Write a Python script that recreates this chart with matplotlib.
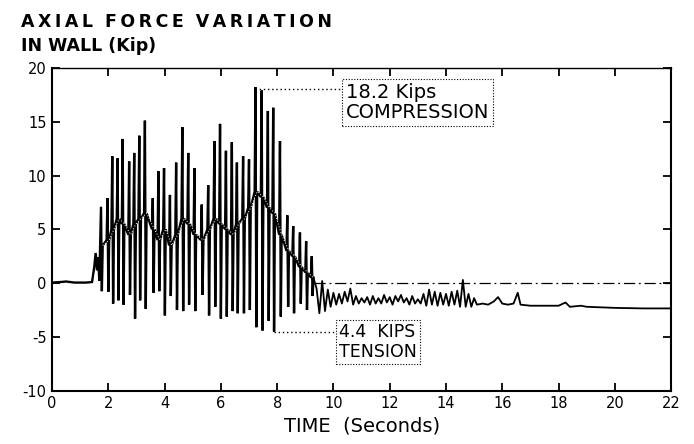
import matplotlib
matplotlib.use("Agg")
import matplotlib.pyplot as plt

# ---------------- data ----------------
# quiet start before the shaking
start_t = [0.0, 0.3, 0.5, 0.8, 1.2, 1.42, 1.50, 1.55, 1.60, 1.64, 1.68]
start_v = [0.05, 0.1, 0.15, 0.05, 0.05, 0.1, 1.5, 2.8, 1.2, 2.4, 0.2]

# strong-motion spikes: time, peak compression, peak tension, mid-band level (kip)
spike_t = [1.74, 1.97, 2.14, 2.33, 2.51, 2.74, 2.92, 3.10, 3.30, 3.58,
           3.78, 3.98, 4.19, 4.41, 4.63, 4.84, 5.06, 5.32, 5.55, 5.77,
           5.97, 6.18, 6.39, 6.57, 6.79, 7.00, 7.23, 7.45, 7.67, 7.86,
           8.10, 8.36, 8.57, 8.81, 9.03, 9.23]
spike_top = [7.1, 7.9, 11.8, 11.6, 13.4, 11.3, 12.1, 13.7, 15.1, 7.9,
             10.4, 10.7, 8.2, 11.2, 14.5, 12.1, 10.7, 7.3, 9.1, 13.2,
             14.8, 12.3, 13.1, 11.2, 11.8, 11.5, 18.2, 17.9, 16.0, 16.3,
             13.2, 6.3, 5.3, 4.7, 3.9, 2.5]
spike_bot = [-0.75, -0.8, -1.9, -1.6, -2.0, -1.1, -3.3, -1.6, -2.4, -0.9,
             -0.75, -3.0, -1.2, -2.5, -2.6, -2.0, -2.6, -1.1, -3.0, -2.2,
             -3.3, -3.1, -2.6, -2.8, -2.8, -2.5, -4.1, -4.4, -3.5, -4.5,
             -3.1, -2.2, -2.8, -1.9, -2.5, -1.2]
spike_mid = [3.5, 4.0, 5.0, 6.0, 5.5, 4.5, 5.5, 6.0, 6.5, 5.0,
             4.0, 5.0, 3.5, 4.5, 6.0, 5.5, 4.5, 4.0, 5.0, 6.0,
             5.5, 5.0, 4.5, 5.5, 6.0, 7.0, 8.5, 8.0, 7.0, 6.5,
             4.5, 3.0, 2.5, 1.5, 1.0, 0.5]

# free-vibration tail
tail_t = [9.4, 9.5, 9.6, 9.7, 9.8, 9.9, 10.0, 10.1, 10.2, 10.3,
          10.4, 10.5, 10.6, 10.7, 10.8, 10.9, 11.0, 11.1, 11.2, 11.3,
          11.4, 11.5, 11.6, 11.7, 11.8, 11.9, 12.0, 12.1, 12.2, 12.3,
          12.4, 12.5, 12.6, 12.7, 12.8, 12.9, 13.0, 13.1, 13.2, 13.3,
          13.4, 13.5, 13.6, 13.7, 13.8, 13.9, 14.0, 14.1, 14.2, 14.3,
          14.4, 14.5, 14.6, 14.7, 14.8, 14.9, 15.0, 15.1, 15.3, 15.5,
          15.7, 15.85, 16.0, 16.2, 16.4, 16.55, 16.65, 17.0, 17.5, 18.0,
          18.25, 18.4, 18.8, 19.0, 20.0, 21.0, 22.0]
tail_v = [-0.5, -2.8, 0.2, -2.6, -0.6, -2.2, -0.9, -2.0, -1.0, -1.9,
          -0.8, -1.7, -0.5, -2.0, -1.2, -1.9, -1.4, -1.8, -1.3, -2.0,
          -1.2, -1.9, -1.4, -1.9, -1.1, -1.8, -1.3, -2.0, -1.2, -1.7,
          -1.1, -1.8, -1.4, -2.0, -1.2, -1.9, -1.5, -1.9, -1.0, -2.1,
          -0.6, -2.0, -0.8, -2.1, -0.9, -2.0, -1.0, -2.1, -0.8, -2.0,
          -0.7, -2.2, 0.3, -2.2, -1.0, -2.2, -1.4, -2.0, -1.9, -2.0,
          -1.7, -1.3, -1.9, -2.0, -1.9, -0.9, -2.0, -2.1, -2.1, -2.1,
          -1.8, -2.2, -2.1, -2.2, -2.3, -2.35, -2.35]

peak_comp = 18.2
peak_tens = -4.5
comp_label = "18.2 Kips\nCOMPRESSION"
tens_label = "4.4  KIPS\nTENSION"

x_ticks = [0, 2, 4, 6, 8, 10, 12, 14, 16, 18, 20, 22]
y_ticks = [-10, -5, 0, 5, 10, 15, 20]
y_ticklabels = ["-10", "-5", "0", "5", "10", "15", "20"]

title_line1 = "AXIAL FORCE VARIATION"
title_line2 = "IN WALL (Kip)"
xlabel = "TIME  (Seconds)"

# ---------------- build the record ----------------
trace_t = list(start_t)
trace_v = list(start_v)
for t, top, bot, mid in zip(spike_t, spike_top, spike_bot, spike_mid):
    trace_t += [t - 0.03, t, t + 0.03, t + 0.06]
    trace_v += [mid, top, bot, mid]

fig = plt.figure(figsize=(6.94, 4.44), dpi=100)
ax = fig.add_axes([0.075, 0.12, 0.892, 0.727])

ax.plot(trace_t, trace_v, color="black", lw=1.7, solid_joinstyle="miter")
# light retrace speckle in the mid band
ax.plot([t + 0.06 for t in spike_t], spike_mid, color="white", lw=0.7,
        linestyle=(0, (1, 2)))
ax.plot([trace_t[-1]] + tail_t, [trace_v[-1]] + tail_v, color="black", lw=1.3)

# zero reference (dash-dot) after the shaking
ax.plot([9.3, 22.0], [0, 0], color="black", lw=0.9,
        linestyle=(0, (9, 3, 1.5, 3)))

ax.set_xlim(0, 22)
ax.set_ylim(-10, 20)
ax.set_xticks(x_ticks)
ax.set_yticks(y_ticks)
ax.set_yticklabels(y_ticklabels)
ax.tick_params(direction="in", length=6, width=1.3, top=True, right=True,
               labelsize=10.5, pad=4)
for s in ax.spines.values():
    s.set_linewidth(1.5)
ax.spines["top"].set_linewidth(1.0)

ax.set_xlabel(xlabel, fontsize=14, labelpad=4)

line1 = "  ".join("\u2009".join(w) for w in title_line1.split(" "))
fig.text(0.03, 0.97, line1, fontsize=12.5, fontweight="bold",
         va="top", ha="left")
fig.text(0.03, 0.916, title_line2, fontsize=12.5, fontweight="bold",
         va="top", ha="left")

# annotations: leaders + boxed labels
ax.plot([spike_t[26], 10.27], [peak_comp - 0.2, peak_comp - 0.2], color="black",
        lw=1.0, linestyle=(0, (1, 2)))
ax.text(10.45, 18.6, comp_label, fontsize=14, va="top", ha="left",
        linespacing=1.1,
        bbox=dict(boxstyle="square,pad=0.2", fc="white", ec="black",
                  lw=0.8, ls=(0, (1, 1.5))))
ax.plot([spike_t[29] + 0.03, 10.09], [peak_tens, peak_tens], color="black",
        lw=1.0, linestyle=(0, (1, 2)))
ax.text(10.2, -3.75, tens_label, fontsize=12.5, va="top", ha="left",
        linespacing=1.1,
        bbox=dict(boxstyle="square,pad=0.2", fc="white", ec="black",
                  lw=0.8, ls=(0, (1, 1.5))))

fig.savefig("out.png", dpi=100)
